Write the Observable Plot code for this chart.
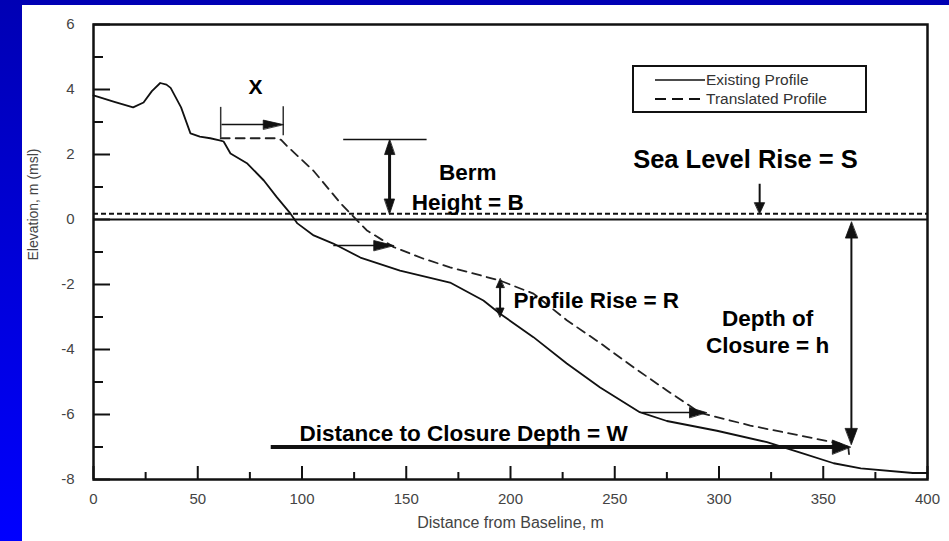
<!DOCTYPE html>
<html><head><meta charset="utf-8">
<script src="https://cdn.jsdelivr.net/npm/d3@7"></script>
<script src="https://cdn.jsdelivr.net/npm/@observablehq/plot@0.6"></script>
<style>
html,body{margin:0;padding:0;background:#0000ff;}
#wrap{position:relative;width:949px;height:541px;background:linear-gradient(to bottom,#0000b4,#0000ff);overflow:hidden;font-family:"Liberation Sans",Arial,sans-serif;}
#panel{position:absolute;left:22px;top:5px;width:927px;height:536px;background:#fff;}
#chart{position:absolute;left:0;top:0;}
#legend{position:absolute;left:610px;top:60px;width:235px;height:48px;box-sizing:border-box;border:2px solid #111;background:#fff;}
.lrow{position:absolute;left:0;height:18px;display:flex;align-items:center;font-size:15.5px;color:#333;white-space:nowrap;}
.lrow svg{margin-left:21px;margin-right:1px;}
</style></head>
<body>
<div id="wrap"><div id="panel"><div id="chart"></div>
<div id="legend">
 <div class="lrow" style="top:4px"><svg width="50" height="4"><line x1="0" y1="2" x2="50" y2="2" stroke="#111" stroke-width="1.6"/></svg>Existing Profile</div>
 <div class="lrow" style="top:23px"><svg width="50" height="4"><line x1="0" y1="2" x2="50" y2="2" stroke="#111" stroke-width="2.2" stroke-dasharray="11,6"/></svg>Translated Profile</div>
</div>
</div></div>
<script>
// ---- data ----
const existingProfile = [
 [0,3.82],[10,3.62],[19,3.45],[24,3.6],[28,3.95],[32,4.2],[35,4.15],[37,4.05],[42,3.45],[46.5,2.65],
 [51,2.55],[56,2.5],[61,2.43],[62.4,2.4],[65.7,2.03],[73.8,1.72],[81.7,1.2],[88,0.68],[94.5,0.18],[97.8,-0.12],
 [105.6,-0.49],[115,-0.74],[128,-1.17],[147,-1.57],[171,-1.94],[187,-2.49],[195,-2.9],[211,-3.62],[227,-4.43],
 [243,-5.17],[262,-5.93],[275,-6.2],[299,-6.5],[323,-6.85],[339,-7.17],[355,-7.5],[368,-7.66],[393,-7.8],[400,-7.8]
];
const translatedProfile = [
 [61,2.5],[88,2.5],[90,2.45],[93,2.25],[105.5,1.5],[118.5,0.5],[131,-0.33],[144,-0.85],[158,-1.2],[171,-1.47],
 [195,-1.88],[211,-2.28],[227,-3.1],[243,-3.8],[259,-4.55],[275,-5.26],[291,-5.95],[315,-6.34],[339,-6.65],
 [358,-6.9],[362,-7.0],[362.5,-7.3]
];
const xTicks = [0,50,100,150,200,250,300,350,400];
const xMinorTicks = [25,75,125,175,225,275,325,375];
const yTicks = [-8,-6,-4,-2,0,2,4,6];
const yMinorTicks = [-7,-5,-3,-1,1,3,5];
const seaLevel = 0;
const seaLevelRise = 0.18;
const bermTop = [{y:2.46, x1:120, x2:160}];
const shiftBrackets = [{x:61, y1:2.5, y2:3.45},{x:91, y1:2.58, y2:3.47}];
const labels = [
 {id:"X", text:"X", x:77.7, y:4.06},
 {id:"berm1", text:"Berm", x:179.5, y:1.43},
 {id:"berm2", text:"Height = B", x:179.5, y:0.52},
 {id:"slr", text:"Sea Level Rise = S", x:312.7, y:1.85},
 {id:"rise", text:"Profile Rise = R", x:201.4, y:-2.49},
 {id:"doc1", text:"Depth of", x:323.3, y:-3.05},
 {id:"doc2", text:"Closure = h", x:323.3, y:-3.88},
 {id:"w", text:"Distance to Closure Depth = W", x:177.5, y:-6.58}
];
const arrows = [
 {id:"xShift", x1:61.4, y1:2.92, x2:91, y2:2.92, both:false},
 {id:"berm", x1:142, y1:2.46, x2:142, y2:0.17, both:true},
 {id:"slr", x1:319.5, y1:1.1, x2:319.5, y2:0.18, both:false},
 {id:"shift1", x1:115, y1:-0.8, x2:144, y2:-0.8, both:false},
 {id:"rise", x1:195, y1:-1.82, x2:195, y2:-3.0, both:true},
 {id:"shift2", x1:263, y1:-5.94, x2:294, y2:-5.94, both:false},
 {id:"closure", x1:363.5, y1:-0.08, x2:363.5, y2:-6.92, both:true},
 {id:"width", x1:85, y1:-7.0, x2:363, y2:-7.0, both:false}
];
// ---- styles ----
const arrowStyle = {
 xShift:{w:1.5,hl:20,hr:4.5}, berm:{w:3,hl:15,hr:5}, slr:{w:2,hl:11,hr:5}, shift1:{w:1.5,hl:20,hr:5},
 rise:{w:2,hl:9,hr:4}, shift2:{w:1.5,hl:17,hr:5}, closure:{w:2,hl:16,hr:6}, width:{w:4,hl:18,hr:7}
};
const W = 927, H = 536, ML = 71, MR = 22, MT = 19, MB = 62;
const xDomain = [0,400], yDomain = [-8,6];
const kx = (W-ML-MR)/(xDomain[1]-xDomain[0]);
const ky = (H-MT-MB)/(yDomain[1]-yDomain[0]);
const font = "'Liberation Sans', Arial, sans-serif";
const ink = "#111";
const fmt = d => String(d);

const headShape = {draw(ctx, l, r){ ctx.moveTo(0,-l); ctx.lineTo(-r,0); ctx.lineTo(r,0); ctx.closePath(); }};

const arrowMarks = [];
for (const a of arrows) {
  const s = arrowStyle[a.id];
  const dxp = (a.x2-a.x1)*kx, dyp = -(a.y2-a.y1)*ky;
  const len = Math.hypot(dxp, dyp), ux = dxp/len, uy = dyp/len;
  const ang = Math.atan2(dxp, -dyp)*180/Math.PI;
  const cut = s.hl*0.6;
  const shaft = {
    x1: a.both ? a.x1 + ux*cut/kx : a.x1, y1: a.both ? a.y1 - uy*cut/ky : a.y1,
    x2: a.x2 - ux*cut/kx, y2: a.y2 + uy*cut/ky
  };
  arrowMarks.push(Plot.link([shaft], {x1:"x1", y1:"y1", x2:"x2", y2:"y2", stroke:ink, strokeWidth:s.w, strokeLinecap:"butt"}));
  const heads = [{x:a.x2, y:a.y2, r:ang}];
  if (a.both) heads.push({x:a.x1, y:a.y1, r:ang+180});
  arrowMarks.push(Plot.vector(heads, {x:"x", y:"y", rotate:d=>d.r, length:s.hl, r:s.hr, anchor:"end", shape:headShape, fill:ink, stroke:ink, strokeWidth:0.8}));
}

const lab = id => labels.filter(d => d.id === id || (Array.isArray(id) && id.includes(d.id)));
const bold = {x:"x", y:"y", text:"text", fill:"#000", fontWeight:"bold", fontFamily:font};

const chart = Plot.plot({
  width: W, height: H,
  marginLeft: ML, marginRight: MR, marginTop: MT, marginBottom: MB,
  style: {fontFamily: font, background: "transparent", overflow: "visible"},
  x: {domain: xDomain},
  y: {domain: yDomain},
  marks: [
    Plot.ruleY([seaLevel], {stroke: ink, strokeWidth: 2}),
    Plot.ruleY([seaLevel + seaLevelRise], {stroke: ink, strokeWidth: 2, strokeDasharray: "5,3"}),
    Plot.line(existingProfile, {x: d=>d[0], y: d=>d[1], stroke: ink, strokeWidth: 1.8}),
    Plot.line(translatedProfile, {x: d=>d[0], y: d=>d[1], stroke: "#222", strokeWidth: 1.8, strokeDasharray: "9,6"}),
    Plot.ruleY(bermTop, {y:"y", x1:"x1", x2:"x2", stroke: ink, strokeWidth: 1.5}),
    Plot.ruleX(shiftBrackets, {x:"x", y1:"y1", y2:"y2", stroke: "#333", strokeWidth: 1.5}),
    ...arrowMarks,
    Plot.text(lab("X"), {...bold, fontSize: 21}),
    Plot.text(lab(["berm1","berm2","doc1","doc2","w"]), {...bold, fontSize: 22.5}),
    Plot.text(lab("rise"), {...bold, fontSize: 22.5, textAnchor: "start"}),
    Plot.text(lab("slr"), {...bold, fontSize: 25.5}),
    Plot.frame({stroke: ink, strokeWidth: 2.5}),
    Plot.axisX(xTicks, {anchor: "bottom", tickSize: -13, strokeWidth: 2, stroke: ink, fill: "none", label: null}),
    Plot.axisX(xMinorTicks, {anchor: "bottom", tickSize: -7, strokeWidth: 2, stroke: ink, fill: "none", label: null}),
    Plot.axisX(xTicks, {anchor: "bottom", tickSize: 0, tickPadding: 14, fill: "#444", fontSize: 15, tickFormat: fmt, label: null}),
    Plot.axisY(yTicks, {anchor: "left", tickSize: -17, strokeWidth: 2, stroke: ink, fill: "none", label: null}),
    Plot.axisY(yMinorTicks, {anchor: "left", tickSize: -10, strokeWidth: 2, stroke: ink, fill: "none", label: null}),
    Plot.axisY(yTicks, {anchor: "left", tickSize: 0, tickPadding: 19, fill: "#444", fontSize: 15, tickFormat: fmt, label: null}),
    Plot.text(["Distance from Baseline, m"], {frameAnchor: "bottom", dy: 48, fill: "#444", fontSize: 16, text: d=>d}),
    Plot.text(["Elevation, m (msl)"], {frameAnchor: "left", dx: -60, dy: 8.5, rotate: -90, fill: "#444", fontSize: 14, text: d=>d})
  ]
});
document.getElementById("chart").appendChild(chart);
</script>
</body></html>
